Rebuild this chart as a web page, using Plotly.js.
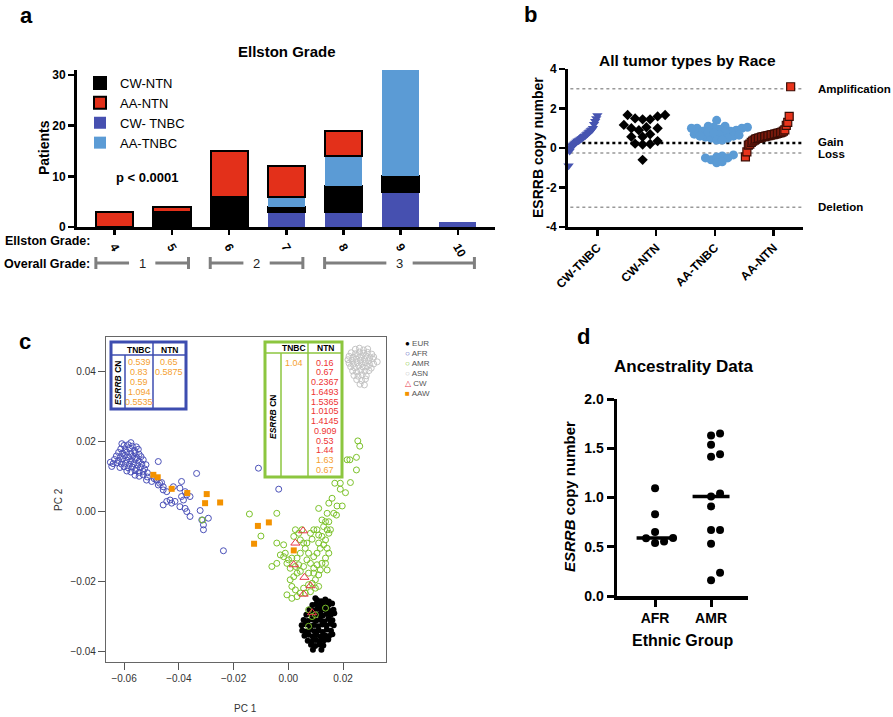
<!DOCTYPE html>
<html><head><meta charset="utf-8">
<script src="https://cdn.plot.ly/plotly-3.0.1.min.js"></script>
<style>html,body{margin:0;padding:0;background:#fff}#chart{width:893px;height:717px}</style>
</head><body><div id="chart"></div>
<script>
// ================= DATA =================
// Panel a: Ellston grade stacked bars
const ellstonGrades = [4, 5, 6, 7, 8, 9, 10];
const cwTnbcPatients = [0, 0, 0, 3, 3, 7, 1];
const cwNtnPatients  = [0, 3, 6, 1, 5, 3, 0];
const aaTnbcPatients = [0, 0, 0, 2, 6, 21, 0];
const aaNtnPatients  = [3, 1, 9, 6, 5, 0, 0];
const overallGradeLabels = ['1', '2', '3'];
const overallGradeFrom = [4, 6, 8];
const overallGradeTo = [5, 7, 10];

// Panel b: ESRRB copy number by race / tumour type
const raceGroups = ['CW-TNBC', 'CW-NTN', 'AA-TNBC', 'AA-NTN'];
const cwTnbcCN = [-0.9, -0.15, 0.0, 0.1, 0.15, 0.2, 0.25, 0.3, 0.35, 0.38, 0.42, 0.45, 0.5, 0.55, 0.6, 0.62, 0.68, 0.72, 0.78, 0.82, 0.88, 0.92, 1.0, 1.2, 1.35, 1.5, 1.65];
const cwNtnCN = [1.67, 1.6, 1.5, 1.67, 1.45, 1.45, 1.17, 1.0, 1.0, 0.9, 1.05, 0.57, 0.57, 0.7, 0.2, 0.22, 0.18, 0.35, -0.6];
const aaTnbcCN = [1.4, 1.1, 1.0, 0.95, 0.9, 0.85, 0.8, 0.7, 0.65, 0.6, 0.55, 0.5, 1.05, 1.0, 1.1, 1.05, 1.0, 0.85, 0.8, 0.75, 0.6, 0.65, 0.5, 0.4, 0.4, -0.4, -0.35, -0.5, -0.6, -0.5, -0.45, -0.75, -0.7];
const aaNtnCN = [-0.45, -0.2, 0.15, 0.2, 0.28, 0.35, 0.4, 0.45, 0.48, 0.5, 0.52, 0.55, 0.57, 0.58, 0.6, 0.62, 0.63, 0.65, 0.67, 0.68, 0.7, 0.72, 0.74, 0.76, 0.78, 0.8, 0.85, 0.92, 1.15, 1.3, 1.6, 3.1];
const cnThresholds = [3, 0.25, -0.25, -3];
const cnThresholdLabels = ['Amplification', 'Gain', 'Loss', 'Deletion'];

// Panel c: PCA
const eurPC1 = [0.0099,
 0.0105,0.0120,0.0135,0.0148,
 0.0088,0.0102,0.0117,0.0131,0.0146,0.0160,
 0.0077,0.0092,0.0106,0.0121,0.0136,0.0151,0.0165,
 0.0066,0.0081,0.0096,0.0110,0.0125,0.0140,0.0155,0.0168,
 0.0056,0.0071,0.0086,0.0101,0.0116,0.0131,0.0146,0.0161,
 0.0049,0.0064,0.0079,0.0094,0.0109,0.0124,0.0139,0.0154,0.0166,
 0.0051,0.0066,0.0081,0.0096,0.0111,0.0126,0.0141,0.0156,
 0.0059,0.0074,0.0089,0.0104,0.0119,0.0134,0.0149,0.0161,
 0.0071,0.0086,0.0101,0.0116,0.0131,0.0146,
 0.0083,0.0098,0.0113,0.0128,
 0.0090,0.0121];
const eurPC2 = [-0.0247,
 -0.0252,-0.0255,-0.0250,-0.0256,
 -0.0266,-0.0263,-0.0268,-0.0264,-0.0267,-0.0262,
 -0.0279,-0.0282,-0.0277,-0.0281,-0.0278,-0.0283,-0.0280,
 -0.0294,-0.0291,-0.0296,-0.0293,-0.0297,-0.0292,-0.0295,-0.0290,
 -0.0309,-0.0312,-0.0307,-0.0311,-0.0308,-0.0313,-0.0306,-0.0310,
 -0.0324,-0.0321,-0.0326,-0.0323,-0.0327,-0.0322,-0.0325,-0.0320,-0.0324,
 -0.0339,-0.0342,-0.0337,-0.0341,-0.0338,-0.0343,-0.0336,-0.0340,
 -0.0354,-0.0351,-0.0356,-0.0352,-0.0357,-0.0353,-0.0355,-0.0350,
 -0.0368,-0.0371,-0.0366,-0.0370,-0.0367,-0.0365,
 -0.0380,-0.0383,-0.0379,-0.0382,
 -0.0394,-0.0394];
const afrPC1 = [-0.0600,-0.0585,-0.0570,-0.0555,-0.0608,-0.0575,
 -0.0612,-0.0596,-0.0580,-0.0562,-0.0548,
 -0.0620,-0.0605,-0.0590,-0.0575,-0.0560,-0.0545,
 -0.0628,-0.0613,-0.0598,-0.0583,-0.0568,-0.0553,-0.0538,
 -0.0635,-0.0620,-0.0605,-0.0590,-0.0575,-0.0560,-0.0545,-0.0530,
 -0.0640,-0.0625,-0.0610,-0.0595,-0.0580,-0.0565,-0.0550,-0.0535,-0.0520,
 -0.0650,-0.0645,
 -0.0615,-0.0600,-0.0585,-0.0570,-0.0555,-0.0540,-0.0525,
 -0.0590,-0.0575,-0.0560,-0.0545,-0.0530,-0.0515,
 -0.0560,-0.0545,-0.0530,-0.0515,
 -0.0518,-0.0499,-0.0481,-0.0463,-0.0475,-0.0457,-0.0457,-0.0444,-0.0420,-0.0396,
 -0.0377,-0.0390,-0.0371,-0.0359,-0.0383,-0.0432,-0.0457,-0.0444,-0.0426,-0.0414,
 -0.0396,-0.0377,-0.0371,-0.0359,-0.0322,-0.0316,-0.0310,-0.0310,-0.0292,-0.0335,
 -0.0475,-0.0109,-0.0035,-0.0237,-0.0390,-0.0490,-0.0470];
const afrPC2 = [0.0190,0.0192,0.0188,0.0186,0.0195,0.0198,
 0.0180,0.0178,0.0181,0.0176,0.0179,
 0.0170,0.0168,0.0171,0.0167,0.0169,0.0165,
 0.0160,0.0158,0.0161,0.0157,0.0159,0.0155,0.0158,
 0.0150,0.0147,0.0151,0.0148,0.0146,0.0150,0.0145,0.0149,
 0.0138,0.0140,0.0137,0.0139,0.0136,0.0138,0.0134,0.0137,0.0135,
 0.0142,0.0130,
 0.0127,0.0129,0.0126,0.0128,0.0124,0.0127,0.0123,
 0.0117,0.0114,0.0118,0.0113,0.0116,0.0112,
 0.0105,0.0102,0.0106,0.0100,
 0.0091,0.0087,0.0091,0.0084,0.0077,0.0072,0.0063,0.0058,0.0072,0.0068,
 0.0058,0.0044,0.0049,0.0044,0.0034,0.0034,0.0020,0.0030,0.0025,0.0030,
 0.0015,0.0010,0.0001,-0.0013,0.0004,-0.0023,-0.0037,-0.0051,-0.0018,0.0110,
 0.0144,0.0125,0.0065,-0.0111,0.0087,0.0095,0.0082];
const amrPC1 = [0.0254,0.0261,0.0249,0.0249,0.0225,0.0215,0.0227,0.0209,0.0190,0.0170,
 0.0190,0.0160,0.0148,0.0197,0.0178,0.0166,0.0176,0.0142,0.0111,0.0123,
 0.0136,0.0148,0.0154,0.0142,0.0129,0.0105,0.0111,0.0123,0.0148,0.0136,
 0.0093,0.0081,0.0087,0.0111,0.0129,0.0142,0.0148,0.0136,0.0123,0.0105,
 0.0093,0.0081,0.0068,0.0074,0.0062,0.0056,0.0044,0.0020,0.0026,0.0038,
 0.0050,0.0068,0.0117,0.0105,0.0093,0.0117,0.0111,0.0099,0.0087,0.0074,
 0.0056,0.0044,0.0026,0.0013,0.0007,0.0020,0.0032,0.0044,0.0056,0.0038,
 0.0026,0.0007,-0.0005,-0.0017,-0.0029,-0.0042,-0.0060,-0.0042,-0.0017,-0.0011,
 0.0001,0.0013,0.0032,0.0044,-0.0005,0.0013,0.0032,0.0062,0.0081,0.0099,
 0.0111,-0.0042,-0.0142,-0.0100,-0.0313,0.0074,0.0093,0.0136,0.0142,0.0074,
 0.0087,0.0099,0.0074,0.0136];
const amrPC2 = [0.0203,0.0188,0.0156,0.0120,0.0149,0.0149,0.0084,0.0055,0.0082,0.0082,
 0.0065,0.0039,0.0025,0.0017,0.0017,-0.0004,-0.0009,-0.0004,0.0010,-0.0023,
 -0.0028,-0.0028,-0.0051,-0.0051,-0.0042,-0.0051,-0.0066,-0.0070,-0.0061,-0.0080,
 -0.0051,-0.0061,-0.0078,-0.0089,-0.0094,-0.0104,-0.0118,-0.0132,-0.0147,-0.0151,
 -0.0161,-0.0147,-0.0137,-0.0118,-0.0104,-0.0089,-0.0080,-0.0070,-0.0051,-0.0061,
 -0.0051,-0.0089,-0.0104,-0.0118,-0.0128,-0.0166,-0.0180,-0.0194,-0.0204,-0.0208,
 -0.0218,-0.0232,-0.0223,-0.0213,-0.0194,-0.0185,-0.0175,-0.0170,-0.0156,-0.0151,
 -0.0156,-0.0161,-0.0147,-0.0128,-0.0123,-0.0147,-0.0156,-0.0089,-0.0094,-0.0118,
 -0.0137,-0.0132,-0.0132,-0.0118,-0.0237,-0.0247,-0.0242,-0.0232,-0.0228,-0.0218,
 -0.0213,-0.0004,-0.0006,-0.0069,-0.0023,-0.0175,-0.0175,-0.0147,-0.0166,-0.0280,
 -0.0299,-0.0294,-0.0327,-0.0275];
const asnPC1 = [0.0245,0.0260,0.0275,0.0290,
 0.0230,0.0245,0.0260,0.0275,0.0290,0.0305,
 0.0222,0.0238,0.0253,0.0268,0.0283,0.0298,0.0312,
 0.0218,0.0233,0.0248,0.0263,0.0278,0.0293,0.0308,0.0325,
 0.0222,0.0237,0.0252,0.0267,0.0282,0.0297,0.0312,
 0.0228,0.0243,0.0258,0.0273,0.0288,0.0303,
 0.0235,0.0250,0.0265,0.0280,0.0295,
 0.0240,0.0255,0.0270,0.0285,
 0.0250,0.0268,0.0282,
 0.0262,0.0278];
const asnPC2 = [0.0465,0.0468,0.0463,0.0466,
 0.0455,0.0452,0.0457,0.0454,0.0456,0.0451,
 0.0445,0.0442,0.0447,0.0444,0.0446,0.0441,0.0443,
 0.0435,0.0433,0.0437,0.0434,0.0436,0.0432,0.0438,0.0429,
 0.0425,0.0422,0.0427,0.0424,0.0426,0.0421,0.0423,
 0.0415,0.0412,0.0417,0.0414,0.0416,0.0411,
 0.0403,0.0400,0.0405,0.0402,0.0404,
 0.0390,0.0388,0.0392,0.0389,
 0.0378,0.0375,0.0380,
 0.0365,0.0363];
const cwPC1 = [0.0054, 0.0026, 0.0020, 0.0059, 0.0081, 0.0056, 0.0087];
const cwPC2 = [-0.0054, -0.0089, -0.0151, -0.0187, -0.0211, -0.0235, -0.0288];
const aawPC1 = [-0.0493, -0.0477, -0.0426, -0.0369, -0.0298, -0.0304, -0.0249, -0.0071, -0.0111, -0.0125, 0.0020];
const aawPC2 = [0.0106, 0.0099, 0.0066, 0.0054, 0.0051, 0.0025, 0.0027, -0.0030, -0.0040, -0.0091, -0.0110];
const pcaGroups = ['EUR', 'AFR', 'AMR', 'ASN', 'CW', 'AAW'];

// Tables in panel c and panel d: ESRRB CN by ancestry
const afrTnbcCN = [0.539, 0.83, 0.59, 1.094, 0.5535];
const afrNtnCN = [0.65, 0.5875];
const amrTnbcCN = [1.04];
const amrNtnCN = [0.16, 0.67, 0.2367, 1.6493, 1.5365, 1.0105, 1.4145, 0.909, 0.53, 1.44, 1.63, 0.67];
const amrNtnCohort = ['CW','CW','CW','CW','CW','CW','CW','CW','CW','CW','AAW','AAW'];
const ethnicGroups = ['AFR', 'AMR'];

// ================= HELPERS =================
const W = 893, H = 717;
const PX = p => p / W;
const PY = p => 1 - p / H;
const FONT = 'Liberation Sans, Arial, Helvetica, sans-serif';

function median(a) { const s = [...a].sort((p, q) => p - q); const n = s.length; return n % 2 ? s[(n - 1) / 2] : (s[n / 2 - 1] + s[n / 2]) / 2; }
function swarm(vals, center, pxPerX, pxPerY, dia) {
  const order = vals.map((v, i) => i).sort((a, b) => vals[a] - vals[b]);
  const placed = []; const xs = new Array(vals.length);
  for (const i of order) {
    const yp = vals[i] * pxPerY;
    for (let k = 0; k < 400; k++) {
      const off = (k === 0 ? 0 : (k % 2 ? 1 : -1) * Math.ceil(k / 2)) * dia * 0.5;
      if (placed.every(p => Math.hypot(p[0] - off, p[1] - yp) >= dia)) { placed.push([off, yp]); xs[i] = center + off / pxPerX; break; }
    }
  }
  return xs;
}
function rankSpread(vals, x0, x1) {
  const order = vals.map((v, i) => i).sort((a, b) => vals[a] - vals[b]);
  const xs = new Array(vals.length);
  order.forEach((i, r) => { xs[i] = x0 + (x1 - x0) * r / (vals.length - 1); });
  return xs;
}
const nz = a => a.map(v => v === 0 ? null : v);

const annotations = [];
function ann(text, px, py, o = {}) {
  annotations.push(Object.assign({
    text, x: PX(px), y: PY(py), xref: 'paper', yref: 'paper', showarrow: false,
    xanchor: 'center', yanchor: 'middle',
    font: { family: FONT, size: 12, color: '#000' }
  }, o));
}
const shapes = [];
function pline(x0, y0, x1, y1, color, width) {
  shapes.push({ type: 'line', xref: 'paper', yref: 'paper', x0: PX(x0), y0: PY(y0), x1: PX(x1), y1: PY(y1), line: { color, width } });
}
const bold = (s, c = '#000') => ({ family: FONT, size: s, color: c, weight: 'bold' });
const reg = (s, c = '#000') => ({ family: FONT, size: s, color: c });

// ================= TRACES =================
const traces = [];
// Panel a
const barDefs = [
  ['CW- TNBC', cwTnbcPatients, '#4650b0', 0, 3],
  ['CW-NTN', cwNtnPatients, '#000000', 2, 1],
  ['AA-TNBC', aaTnbcPatients, '#5b9bd5', 0, 4],
  ['AA-NTN', aaNtnPatients, '#e3301a', 2, 2]
];
barDefs.forEach(([name, vals, col, lw, rank]) => {
  traces.push({ type: 'bar', name, x: ellstonGrades, y: nz(vals), xaxis: 'x', yaxis: 'y',
    marker: { color: col, line: { color: '#000', width: lw } }, legendrank: rank, showlegend: true });
});

// Panel b
const bPxX = 235 / 4, bPxY = 158 / 8;
traces.push({ type: 'scatter', mode: 'markers', x: rankSpread(cwTnbcCN, -0.49, 0.0), y: cwTnbcCN, xaxis: 'x2', yaxis: 'y2',
  marker: { symbol: 'triangle-down', size: 9, color: '#4654b0' }, showlegend: false, cliponaxis: false });
traces.push({ type: 'scatter', mode: 'markers', x: swarm(cwNtnCN, 0.77, bPxX, bPxY, 7.5), y: cwNtnCN, xaxis: 'x2', yaxis: 'y2',
  marker: { symbol: 'diamond', size: 8, color: '#000' }, showlegend: false, cliponaxis: false });
traces.push({ type: 'scatter', mode: 'markers', x: swarm(aaTnbcCN, 2.03, bPxX, bPxY, 5.6), y: aaTnbcCN, xaxis: 'x2', yaxis: 'y2',
  marker: { symbol: 'circle', size: 9, color: '#5b9bd5' }, showlegend: false, cliponaxis: false });
traces.push({ type: 'scatter', mode: 'markers', x: rankSpread(aaNtnCN, 2.52, 3.29), y: aaNtnCN, xaxis: 'x2', yaxis: 'y2',
  marker: { symbol: 'square', size: 8, color: '#e8341c', line: { color: '#3a0d05', width: 1.2 } }, showlegend: false, cliponaxis: false });

// Panel c
const pcaStyle = {
  EUR: { symbol: 'circle', size: 6, color: '#000', line: { width: 0 } },
  AFR: { symbol: 'circle-open', size: 6, color: '#4a50b8', line: { width: 1 } },
  AMR: { symbol: 'circle-open', size: 6, color: '#7cc22a', line: { width: 1 } },
  ASN: { symbol: 'circle-open', size: 6, color: '#c4c4c4', line: { width: 1 } },
  CW:  { symbol: 'triangle-up-open', size: 8, color: '#e8374a', line: { width: 1 } },
  AAW: { symbol: 'square', size: 6, color: '#f39200', line: { width: 0 } }
};
const pcaData = { EUR: [eurPC1, eurPC2], AFR: [afrPC1, afrPC2], AMR: [amrPC1, amrPC2], ASN: [asnPC1, asnPC2], CW: [cwPC1, cwPC2], AAW: [aawPC1, aawPC2] };
pcaGroups.forEach(g => {
  traces.push({ type: 'scatter', mode: 'markers', name: g, x: pcaData[g][0], y: pcaData[g][1], xaxis: 'x3', yaxis: 'y3',
    marker: pcaStyle[g], showlegend: false });
});

// Panel d
const afrAll = afrTnbcCN.concat(afrNtnCN);
const amrAll = amrTnbcCN.concat(amrNtnCN);
const dPxX = 131 / 2.34, dPxY = 98.5;
[afrAll, amrAll].forEach((vals, gi) => {
  traces.push({ type: 'scatter', mode: 'markers', x: swarm(vals, gi, dPxX, dPxY, 9), y: vals, xaxis: 'x4', yaxis: 'y4',
    marker: { symbol: 'circle', size: 8, color: '#000' }, showlegend: false, cliponaxis: false });
  const m = median(vals);
  traces.push({ type: 'scatter', mode: 'lines', x: [gi - 0.33, gi + 0.33], y: [m, m], xaxis: 'x4', yaxis: 'y4',
    line: { color: '#000', width: 3.5 }, showlegend: false, cliponaxis: false });
});

// ================= ANNOTATIONS / SHAPES =================
// panel letters
ann('a', 26, 15, { font: bold(22) });
ann('b', 530, 14, { font: bold(22) });
ann('c', 25, 341, { font: bold(22) });
ann('d', 583, 336, { font: bold(22) });

// Panel a texts
ann('Ellston Grade', 287, 52, { font: bold(15) });
ann('Patients', 44, 148, { font: bold(14), textangle: -90 });
ann('p < 0.0001', 147, 177, { font: bold(13) });
ann('Ellston Grade:', 92, 241, { font: bold(12.5), xanchor: 'right' });
ann('Overall Grade:', 92, 264, { font: bold(12.5), xanchor: 'right' });
overallGradeLabels.forEach((lab, i) => {
  const x0 = overallGradeFrom[i] - 0.33, x1 = overallGradeTo[i] + 0.29, mid = (x0 + x1) / 2, gap = 0.23;
  const seg = (a, b) => shapes.push({ type: 'line', xref: 'x', yref: 'paper', x0: a, x1: b, y0: PY(263), y1: PY(263), line: { color: '#7f7f7f', width: 3 } });
  seg(x0, mid - gap); seg(mid + gap, x1);
  [x0, x1].forEach(xc => shapes.push({ type: 'line', xref: 'x', yref: 'paper', x0: xc, x1: xc, y0: PY(257), y1: PY(269), line: { color: '#7f7f7f', width: 3 } }));
  annotations.push({ text: lab, x: mid, y: PY(263), xref: 'x', yref: 'paper', showarrow: false, xanchor: 'center', yanchor: 'middle', font: reg(13, '#222') });
});

// Panel b texts
ann('All tumor types by Race', 687, 60, { font: bold(15.5) });
ann('ESRRB copy number', 538, 148, { font: bold(14), textangle: -90 });
cnThresholds.forEach((t, i) => {
  shapes.push({ type: 'line', xref: 'x2 domain', yref: 'y2', x0: 0.01, x1: 1, y0: t, y1: t, layer: 'below',
    line: { color: i === 1 ? '#000' : '#999', width: i === 1 ? 2.5 : 1.5, dash: 'dot' } });
  annotations.push({ text: cnThresholdLabels[i], x: PX(816), y: t, xref: 'paper', yref: 'y2', showarrow: false, xanchor: 'left', yanchor: 'middle',
    yshift: i === 1 ? 1.5 : (i === 2 ? -1.5 : 0), font: bold(11.5) });
});

// Panel c texts
ann('PC 1', 245, 708, { font: reg(10, '#333') });
ann('PC 2', 58, 500, { font: reg(10, '#333'), textangle: -90 });
const legGlyph = { EUR: '●', AFR: '○', AMR: '○', ASN: '○', CW: '△', AAW: '■' };
pcaGroups.forEach((g, i) => {
  ann(`<span style="color:${pcaStyle[g].color}">${legGlyph[g]}</span> ${g}`, 403, 344 + i * 9.9, { font: reg(8, '#555'), xanchor: 'left' });
});
const cohortColor = { CW: '#ee3333', AAW: '#f5a030' };
// blue table (AFR)
const blue = '#3d4db0';
shapes.push({ type: 'rect', xref: 'paper', yref: 'paper', x0: PX(111), x1: PX(186), y0: PY(409), y1: PY(342), line: { color: blue, width: 3 } });
pline(111, 355, 186, 355, blue, 1.5);
pline(153, 342, 153, 409, blue, 1.5);
pline(125, 355, 125, 409, blue, 1.5);
ann('TNBC', 139, 349.5, { font: bold(8.5) });
ann('NTN', 169, 349.5, { font: bold(8.5) });
ann('<i>ESRRB</i> CN', 118, 383, { font: bold(8.5), textangle: -90 });
afrTnbcCN.forEach((v, i) => ann(String(v), 139, 361.7 + i * 10, { font: reg(9, cohortColor.AAW) }));
afrNtnCN.forEach((v, i) => ann(String(v), 169, 361.7 + i * 10, { font: reg(9, cohortColor.AAW) }));
// green table (AMR)
const green = '#8cc63f';
shapes.push({ type: 'rect', xref: 'paper', yref: 'paper', x0: PX(265), x1: PX(342), y0: PY(477), y1: PY(342), line: { color: green, width: 3 } });
pline(265, 353, 342, 353, green, 1.5);
pline(308, 342, 308, 477, green, 1.5);
pline(281, 353, 281, 477, green, 1.5);
ann('TNBC', 294, 348, { font: bold(8.5) });
ann('NTN', 325, 348, { font: bold(8.5) });
ann('<i>ESRRB</i> CN', 273, 417, { font: bold(8.5), textangle: -90 });
amrTnbcCN.forEach((v, i) => ann(String(v), 294, 362.5 + i * 9.75, { font: reg(9, cohortColor.AAW) }));
amrNtnCN.forEach((v, i) => ann(String(v), 325, 362.5 + i * 9.75, { font: reg(9, cohortColor[amrNtnCohort[i]]) }));

// Panel d texts
ann('Ancestrality Data', 683, 367, { font: bold(17) });
ann('<i>ESRRB</i> copy number', 569, 497, { font: bold(15), textangle: -90 });
ann('Ethnic Group', 683, 640, { font: bold(16) });

// ================= LAYOUT =================
const thickAxis = (extra) => Object.assign({
  showline: true, linecolor: '#000', linewidth: 3, ticks: 'outside', ticklen: 6, tickwidth: 2.5, tickcolor: '#000',
  showgrid: false, zeroline: false, fixedrange: true
}, extra);

const layout = {
  width: W, height: H, margin: { l: 0, r: 0, t: 0, b: 0 },
  paper_bgcolor: '#fff', plot_bgcolor: 'rgba(0,0,0,0)',
  font: { family: FONT, color: '#000' },
  barmode: 'stack', bargap: 0.35, hovermode: false, showlegend: true,
  legend: { x: PX(80), y: PY(68), xanchor: 'left', yanchor: 'top', font: reg(13), bgcolor: 'rgba(0,0,0,0)', tracegroupgap: 0, traceorder: 'normal' },
  xaxis: thickAxis({ domain: [PX(77), PX(495)], anchor: 'y', range: [3.34, 10.65], tickvals: ellstonGrades, tickangle: 60, ticklen: 5, tickfont: bold(12) }),
  yaxis: thickAxis({ domain: [PY(227), PY(70)], anchor: 'x', range: [0, 31], tickvals: [0, 10, 20, 30], tickfont: bold(12) }),
  xaxis2: thickAxis({ domain: [PX(568), PX(803)], anchor: 'y2', range: [-0.5, 3.5], tickvals: [0, 1, 2, 3], ticktext: raceGroups, tickangle: -45, tickfont: bold(12) }),
  yaxis2: thickAxis({ domain: [PY(227), PY(69)], anchor: 'x2', range: [-4, 4], tickvals: [-4, -2, 0, 2, 4], ticktext: ['-4', '-2', '0', '2', '4'], tickfont: bold(12) }),
  xaxis3: { domain: [PX(106), PX(386)], anchor: 'y3', range: [-0.0666, 0.0357], tickvals: [-0.06, -0.04, -0.02, 0, 0.02], tickformat: '.2f',
    ticks: 'outside', ticklen: 7, tickwidth: 1, tickcolor: '#555', showline: true, mirror: true, linecolor: '#666', linewidth: 1.2,
    tickfont: reg(10, '#333'), showgrid: false, zeroline: false },
  yaxis3: { domain: [PY(662), PY(337)], anchor: 'x3', range: [-0.0429, 0.05], tickvals: [-0.04, -0.02, 0, 0.02, 0.04], tickformat: '.2f',
    ticks: 'outside', ticklen: 7, tickwidth: 1, tickcolor: '#555', showline: true, mirror: true, linecolor: '#666', linewidth: 1.2,
    tickfont: reg(10, '#333'), showgrid: false, zeroline: false },
  xaxis4: thickAxis({ domain: [PX(617), PX(748)], anchor: 'y4', range: [-0.68, 1.66], tickvals: [0, 1], ticktext: ethnicGroups, linewidth: 3.5, tickwidth: 3, ticklen: 7, tickfont: bold(14) }),
  yaxis4: thickAxis({ domain: [PY(596), PY(399)], anchor: 'x4', range: [0, 2], tickvals: [0, 0.5, 1, 1.5, 2], tickformat: '.1f', linewidth: 3.5, tickwidth: 3, ticklen: 7, tickfont: bold(14) }),
  annotations, shapes
};

Plotly.newPlot('chart', traces, layout, { displayModeBar: false, staticPlot: true });
</script>
</body></html>
